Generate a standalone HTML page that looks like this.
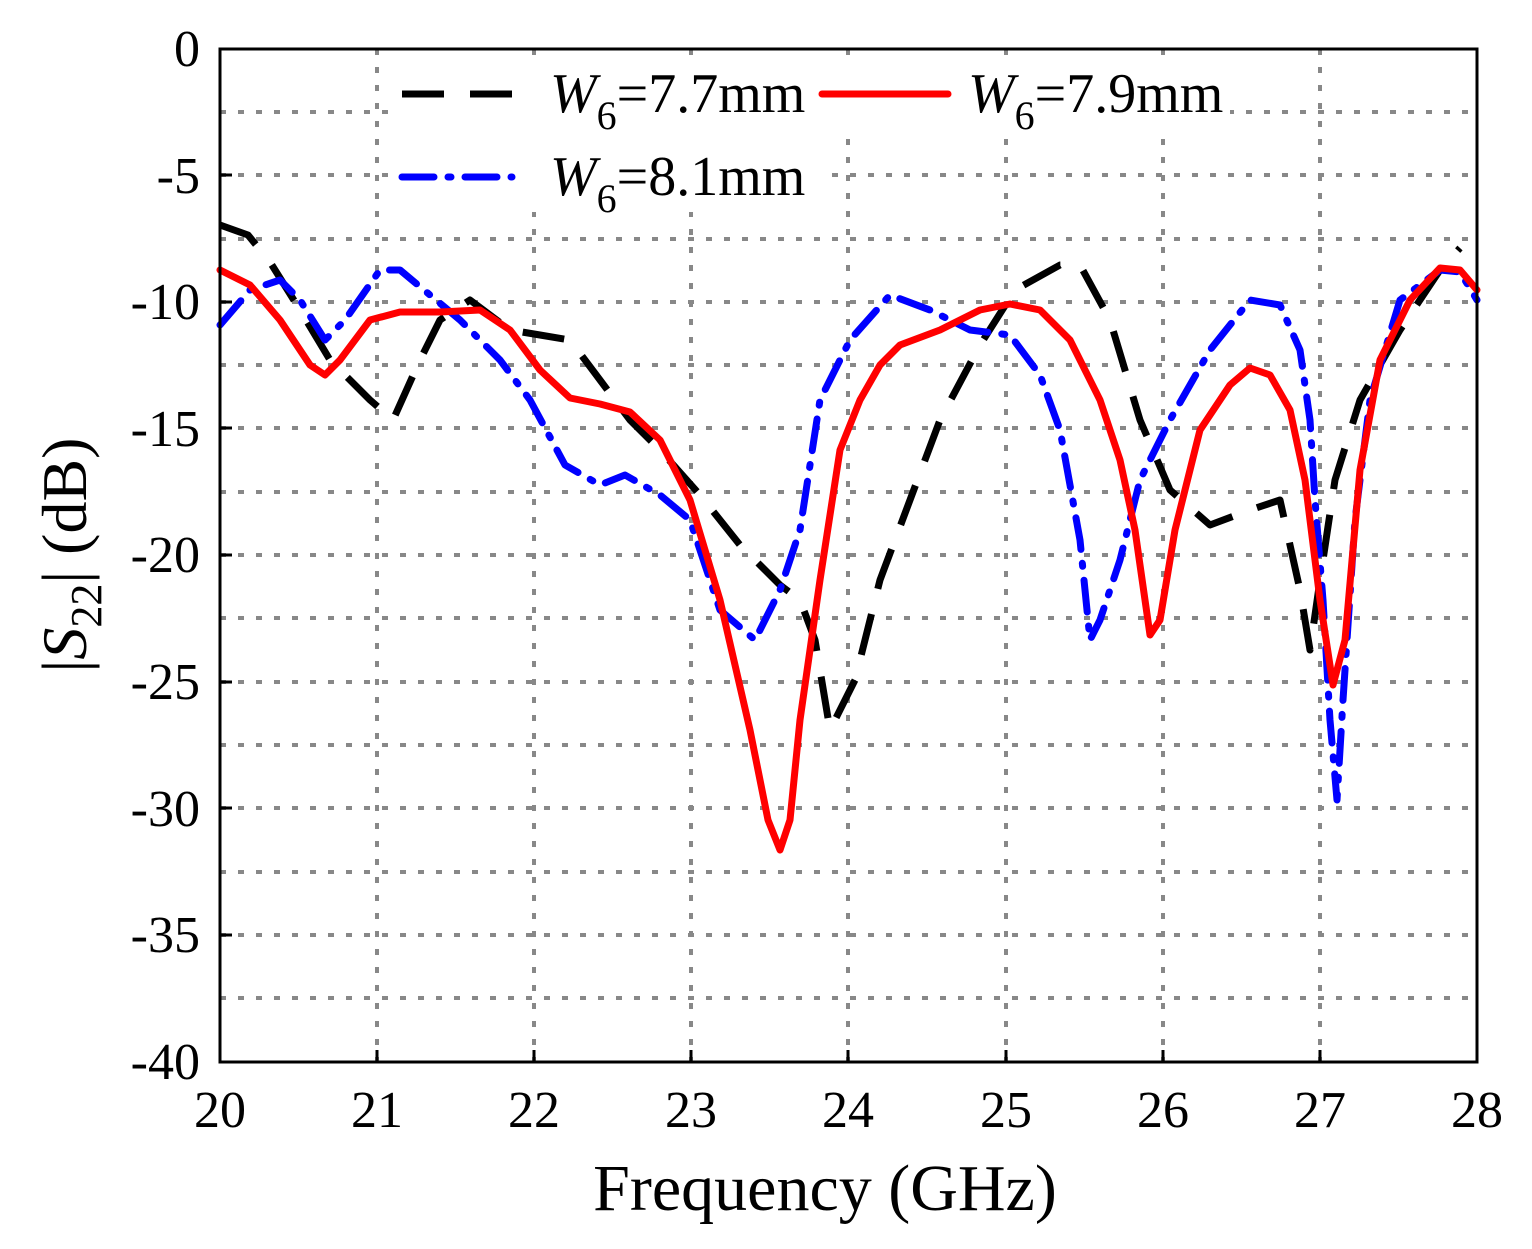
<!DOCTYPE html>
<html><head><meta charset="utf-8"><style>body{margin:0;background:#fff}svg{display:block}</style></head><body>
<svg width="1532" height="1249" viewBox="0 0 1532 1249" xmlns="http://www.w3.org/2000/svg" font-family="Liberation Serif, serif">
<rect width="1532" height="1249" fill="#fff"/>
<g stroke="#888" stroke-width="4" stroke-dasharray="6,12">
<path d="M377,49V1062M534,49V1062M691,49V1062M848,49V1062M1006,49V1062M1163,49V1062M1320,49V1062"/>
<path d="M220,112H1477M220,175H1477M220,239H1477M220,302H1477M220,365H1477M220,428H1477M220,492H1477M220,555H1477M220,618H1477M220,682H1477M220,745H1477M220,808H1477M220,872H1477M220,935H1477M220,998H1477"/>
</g>
<rect x="400" y="62" width="420" height="150" fill="#fff"/>
<rect x="820" y="62" width="410" height="70" fill="#fff"/>
<g fill="none" stroke-linejoin="round" stroke-linecap="round" stroke-width="7">
<polyline stroke="#000" stroke-dasharray="42,26" stroke-linecap="butt" points="220,225 248,235 270,262 300,310 330,360 370,400 393,420 420,360 440,320 470,300 510,330 540,335 570,340 600,380 630,420 660,450 700,495 740,545 780,585 800,600 815,640 830,730 855,680 880,580 910,500 940,420 980,345 1015,290 1060,265 1080,265 1110,320 1140,420 1170,490 1210,525 1250,510 1280,500 1300,590 1310,650 1320,580 1335,480 1360,400 1400,330 1440,270 1460,248"/>
<polyline stroke="#00f" stroke-dasharray="32,14,3,14" points="220,325 250,290 280,280 300,300 325,340 345,320 380,270 400,270 430,295 460,320 500,360 530,400 565,465 600,485 625,475 660,495 690,520 720,610 755,640 780,590 800,530 820,400 850,340 890,295 930,310 970,330 1010,335 1040,375 1060,430 1080,540 1090,640 1100,620 1120,560 1140,480 1170,420 1210,350 1250,300 1280,305 1300,350 1310,420 1315,500 1323,600 1330,720 1337,800 1343,700 1355,520 1370,400 1400,300 1440,270 1460,272 1477,300"/>
<polyline stroke="#f00" points="220,270 250,285 280,320 310,365 325,375 340,360 370,320 400,312 440,312 480,310 510,330 540,370 570,398 600,404 630,412 660,440 690,500 720,600 750,730 768,820 780,850 790,820 800,720 820,580 840,450 860,400 880,365 900,345 940,330 980,310 1010,304 1040,310 1070,340 1100,400 1120,460 1135,530 1150,635 1160,620 1175,530 1200,430 1230,385 1250,368 1270,375 1290,410 1305,480 1320,600 1333,685 1345,640 1360,470 1380,360 1410,300 1440,268 1460,270 1477,290"/>
<line x1="402" y1="94" x2="512" y2="94" stroke="#000" stroke-dasharray="42,26" stroke-linecap="butt"/>
<line x1="822" y1="94" x2="948" y2="94" stroke="#f00"/>
<line x1="402" y1="177" x2="512" y2="177" stroke="#00f" stroke-dasharray="32,14,3,14"/>
</g>
<g font-size="56" fill="#000">
<text x="550" y="112"><tspan font-style="italic">W</tspan><tspan font-size="40" dy="17">6</tspan><tspan dy="-17">=7.7mm</tspan></text>
<text x="968" y="112"><tspan font-style="italic">W</tspan><tspan font-size="40" dy="17">6</tspan><tspan dy="-17">=7.9mm</tspan></text>
<text x="550" y="195"><tspan font-style="italic">W</tspan><tspan font-size="40" dy="17">6</tspan><tspan dy="-17">=8.1mm</tspan></text>
</g>
<rect x="220" y="49" width="1257" height="1013" fill="none" stroke="#000" stroke-width="3"/>
<g stroke="#000" stroke-width="3">
<path d="M377,1062v-12M534,1062v-12M691,1062v-12M848,1062v-12M1006,1062v-12M1163,1062v-12M1320,1062v-12"/>
<path d="M220,175h12M220,302h12M220,428h12M220,555h12M220,682h12M220,808h12M220,935h12"/>
</g>
<g font-size="52" text-anchor="end" fill="#000">
<text x="200" y="66">0</text><text x="200" y="193">-5</text><text x="200" y="319">-10</text><text x="200" y="446">-15</text><text x="200" y="572">-20</text><text x="200" y="699">-25</text><text x="200" y="826">-30</text><text x="200" y="952">-35</text><text x="200" y="1079">-40</text>
</g>
<g font-size="52" text-anchor="middle" fill="#000">
<text x="220" y="1127">20</text><text x="377" y="1127">21</text><text x="534" y="1127">22</text><text x="691" y="1127">23</text><text x="848" y="1127">24</text><text x="1006" y="1127">25</text><text x="1163" y="1127">26</text><text x="1320" y="1127">27</text><text x="1477" y="1127">28</text>
</g>
<text x="825" y="1210" font-size="66" text-anchor="middle">Frequency (GHz)</text>
<text transform="translate(86,555) rotate(-90)" font-size="64" text-anchor="middle">|<tspan font-style="italic">S</tspan><tspan font-size="44" dy="15">22</tspan><tspan dy="-15">| (dB)</tspan></text>
</svg>
</body></html>
